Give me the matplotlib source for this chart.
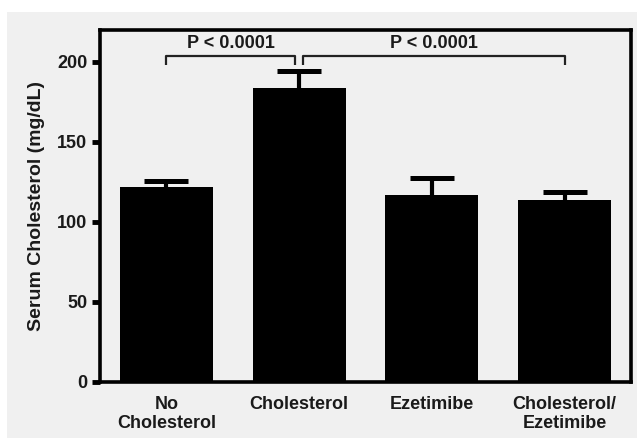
import matplotlib
matplotlib.use("Agg")
from matplotlib import pyplot as plt
from matplotlib.patches import Rectangle

plt.rcParams["font.family"] = ["Liberation Sans", "DejaVu Sans"]
plt.rcParams["font.weight"] = "bold"

groups = ["No\nCholesterol", "Cholesterol", "Ezetimibe", "Cholesterol/\nEzetimibe"]
means = [122, 184, 117, 114]
sem = [3.5, 10.5, 10.5, 4.5]
yticks = [0, 50, 100, 150, 200]
brackets = [(0, 0.97, "P < 0.0001"), (1.03, 3.0, "P < 0.0001")]
bracket_y = 204
bracket_drop = 6

W, H = 637, 438
fig = plt.figure(figsize=(W / 100, H / 100), dpi=100)
fig.patch.set_facecolor("white")
fig.add_artist(Rectangle((7 / W, 0), 1 - 7 / W, 1 - 12 / H,
                         transform=fig.transFigure, facecolor="#f0f0f0",
                         edgecolor="none", zorder=-10))

ax = fig.add_axes([100 / W, 1 - 382 / H, 531 / W, 352 / H])
ax.set_facecolor("#f0f0f0")

x = list(range(len(groups)))
tops = [m + s for m, s in zip(means, sem)]
ax.bar(x, means, width=0.7, color="black", zorder=2)
# upward-only error bars
ax.vlines(x, means, tops, color="black", lw=3, zorder=3)
ax.hlines(tops, [i - 0.165 for i in x], [i + 0.165 for i in x],
          color="black", lw=3.6, zorder=3)

for x0, x1, label in brackets:
    ax.plot([x0, x0, x1, x1],
            [bracket_y - bracket_drop, bracket_y, bracket_y, bracket_y - bracket_drop],
            color="#222222", lw=1.6, solid_capstyle="butt", clip_on=False)
    ax.text((x0 + x1) / 2, bracket_y + 7.5, label, ha="center", va="center",
            fontsize=13, fontweight="bold", color="#1a1a1a")

ax.set_xlim(-0.5, 3.5)
ax.set_ylim(0, 220)
ax.set_yticks(yticks)
ax.set_xticks(x)
ax.set_xticklabels(groups, fontsize=13, fontweight="bold", color="#1a1a1a",
                   linespacing=1.15)
ax.tick_params(axis="x", length=0, pad=10)
ax.tick_params(axis="y", direction="out", length=6, width=3.5, labelsize=13,
               pad=3, labelcolor="#1a1a1a")
for sp in ax.spines.values():
    sp.set_linewidth(2.6)
    sp.set_color("black")

ax.set_ylabel("Serum Cholesterol (mg/dL)", fontsize=14, fontweight="bold",
              color="#1a1a1a", labelpad=9)

fig.savefig("out.png", dpi=100, facecolor=fig.get_facecolor())
